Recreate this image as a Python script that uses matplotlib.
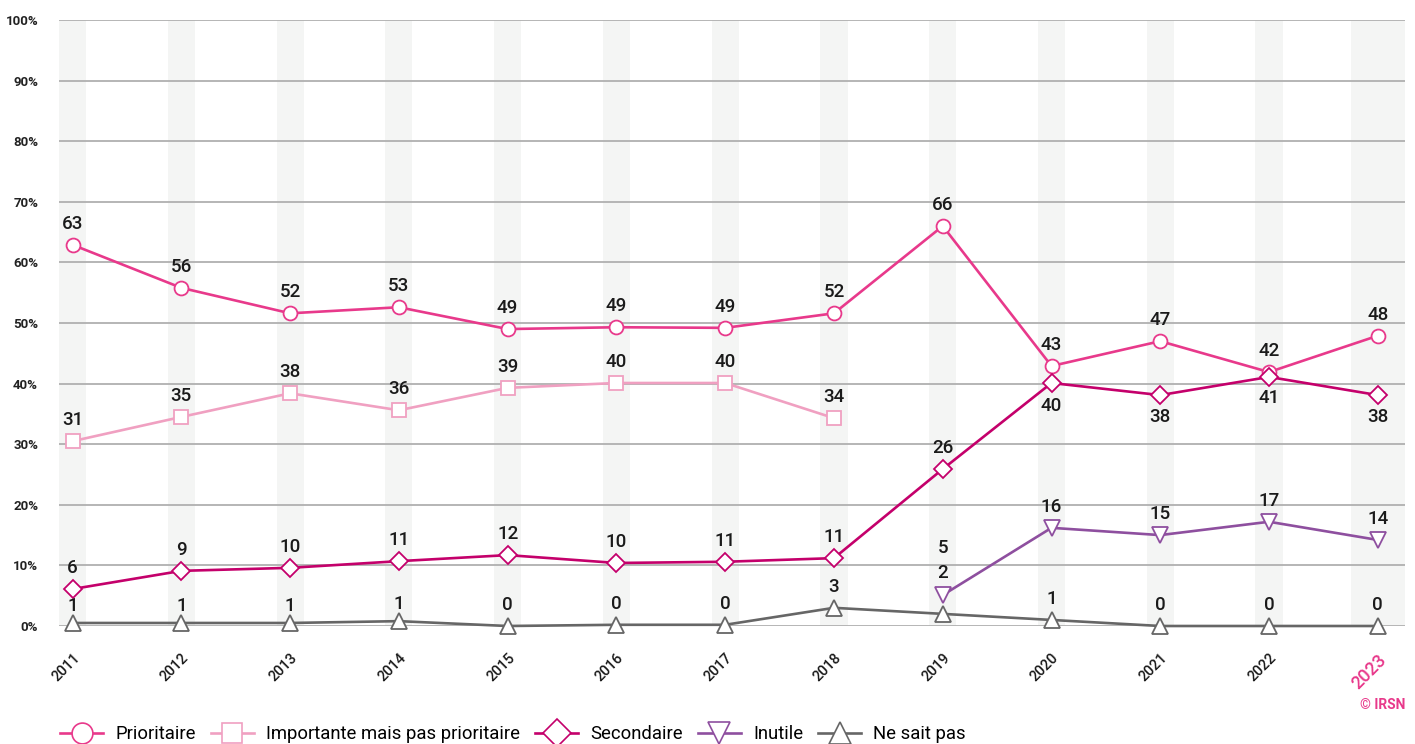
import numpy as np
import matplotlib.pyplot as plt
from matplotlib.lines import Line2D

plt.rcParams['font.family'] = ['Roboto', 'DejaVu Sans']

years = [2011, 2012, 2013, 2014, 2015, 2016, 2017, 2018, 2019, 2020, 2021, 2022, 2023]
year_labels = [str(y) for y in years]

prioritaire = [62.9, 55.8, 51.6, 52.6, 49.0, 49.3, 49.2, 51.6, 66.0, 42.9, 47.0, 41.9, 47.9]
importante = [30.5, 34.5, 38.4, 35.6, 39.3, 40.1, 40.1, 34.3, None, None, None, None, None]
secondaire = [6.1, 9.1, 9.6, 10.7, 11.7, 10.4, 10.6, 11.2, 25.9, 40.1, 38.1, 41.1, 38.1]
inutile = [None, None, None, None, None, None, None, None, 5.1, 16.2, 15.0, 17.2, 14.2]
ne_sait_pas = [0.5, 0.5, 0.5, 0.8, 0.0, 0.2, 0.2, 3.0, 2.0, 1.0, 0.0, 0.0, 0.0]

series = [
    ('Prioritaire', prioritaire, '#e8398b', 'o', 10, 1.9),
    ('Importante mais pas prioritaire', importante, '#f0a0c1', 's', 10, 1.9),
    ('Secondaire', secondaire, '#c4006b', 'D', 9, 1.9),
    ('Inutile', inutile, '#8e4f9f', 'v', 11, 1.9),
    ('Ne sait pas', ne_sait_pas, '#666666', '^', 11, 1.9),
]

# label offsets in pixels (positive = above the point)
default_dy = 21
label_dy = {
    ('Ne sait pas', 2011): 17, ('Ne sait pas', 2012): 17, ('Ne sait pas', 2013): 17,
    ('Ne sait pas', 2014): 17, ('Ne sait pas', 2019): 41,
    ('Secondaire', 2020): -23, ('Secondaire', 2021): -22,
    ('Secondaire', 2022): -21, ('Secondaire', 2023): -22,
    ('Inutile', 2019): 47,
}

fig = plt.figure(figsize=(14.15, 7.44), dpi=100)
ax = fig.add_axes([59 / 1415, 1 - 626 / 744, (1405 - 59) / 1415, (626 - 20) / 744])

ax.set_xlim(2011 - 0.125, 2023 + 0.25)
ax.set_ylim(0, 100)

for y in years:
    w = 0.25 if y == 2023 else 0.125
    ax.axvspan(y - w, y + w, color='#f4f5f4', zorder=0, lw=0)
for g in range(0, 101, 10):
    ax.axhline(g, color='#b0b0b0', lw=1.3, zorder=1)

for name, vals, color, marker, ms, lw in series:
    xs = [x for x, v in zip(years, vals) if v is not None]
    ys = [v for v in vals if v is not None]
    ax.plot(xs, ys, color=color, lw=lw, marker=marker, markersize=ms,
            markerfacecolor='white', markeredgecolor=color, markeredgewidth=1.3,
            zorder=3, clip_on=False)
    for x, v in zip(xs, ys):
        dy = label_dy.get((name, x), default_dy)
        ax.annotate(f'{int(v + 0.5):d}', (x, v), xytext=(0, dy * 0.72), textcoords='offset points',
                    ha='center', va='center', fontsize=13.5, color='#1a1a1a',
                    fontweight='medium', zorder=4)

for s in ax.spines.values():
    s.set_visible(False)
ax.tick_params(length=0)
ax.set_yticks(range(0, 101, 10))
ax.set_yticklabels([f'{g}%' for g in range(0, 101, 10)], fontsize=9.5, fontweight='bold',
                   color='#222222')
ax.tick_params(axis='y', pad=15)
ax.set_xticks(years)
ax.set_xticklabels(year_labels, rotation=45, ha='right', va='top', rotation_mode='anchor',
                   fontsize=10.5, fontweight='medium', color='#1a1a1a')
ax.tick_params(axis='x', pad=18)
last = ax.get_xticklabels()[-1]
last.set_color('#e8398b')
last.set_fontsize(13)

fig.text(1405 / 1415, 1 - 705 / 744, '© IRSN', ha='right', va='center', fontsize=10,
         fontweight='bold', color='#e8398b')

handles = [Line2D([0], [0], color=c, lw=lw, marker=m, markersize=ms + 5,
                  markerfacecolor='white', markeredgecolor=c, markeredgewidth=1.2)
           for _, _, c, m, ms, lw in series]
fig.legend(handles, [s[0] for s in series], loc='center left',
           bbox_to_anchor=(60 / 1415, 1 - 734 / 744), ncol=5, frameon=False,
           fontsize=13.3, handlelength=2.35, handletextpad=0.65, columnspacing=0.8,
           borderaxespad=0, borderpad=0)

fig.savefig('out.png', dpi=100)
